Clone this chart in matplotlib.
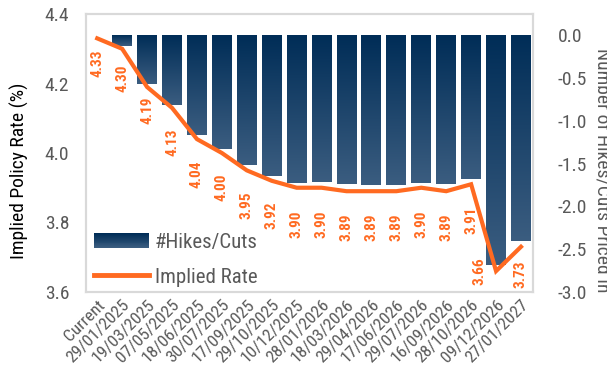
"""Implied policy rate path with the number of hikes/cuts priced in."""

import matplotlib.pyplot as plt
import numpy as np
from matplotlib import font_manager
from matplotlib.colors import LinearSegmentedColormap
from matplotlib.legend_handler import HandlerBase
from matplotlib.patches import Rectangle

meeting_dates = [
    "Current", "29/01/2025", "19/03/2025", "07/05/2025", "18/06/2025",
    "30/07/2025", "17/09/2025", "29/10/2025", "10/12/2025", "28/01/2026",
    "18/03/2026", "29/04/2026", "17/06/2026", "29/07/2026", "16/09/2026",
    "28/10/2026", "09/12/2026", "27/01/2027",
]
implied_rate = [
    4.33, 4.30, 4.19, 4.13, 4.04, 4.00, 3.95, 3.92, 3.90, 3.90,
    3.89, 3.89, 3.89, 3.90, 3.89, 3.91, 3.66, 3.73,
]
hikes_cuts = [
    0.0, -0.12, -0.57, -0.81, -1.17, -1.33, -1.52, -1.64, -1.73, -1.72,
    -1.74, -1.75, -1.75, -1.73, -1.74, -1.68, -2.68, -2.41,
]

ORANGE = "#ff6a21"
GREY = "#595959"
bar_cmap = LinearSegmentedColormap.from_list("navy", ["#002d57", "#3b5d80"])

# label placement (points): dx, dy from each line vertex
label_offsets = [
    (0, -18), (0, -21), (0, -17), (0, -25), (0, -25), (0, -25),
    (0, -25), (0, -25), (0, -26), (0, -26), (0, -26), (0, -26),
    (0, -26), (0, -26), (0, -26), (0, -26), (-12, 0), (0, -20),
]

# narrow families first, whichever is installed
installed = {f.name for f in font_manager.fontManager.ttflist}
narrow = [name for name in ("Roboto Condensed", "Liberation Sans Narrow",
                            "Open Sans Condensed", "DejaVu Sans Condensed")
          if name in installed]
FAMILY = narrow + ["DejaVu Sans"]


class GradientHandler(HandlerBase):
    """Legend key drawn as a stack of thin stripes."""

    def create_artists(self, legend, orig_handle, xdescent, ydescent,
                       width, height, fontsize, trans):
        n = 16
        stripes = []
        for i in range(n):
            stripes.append(Rectangle(
                (-xdescent, -ydescent + height * i / n), width, height / n + 0.05,
                facecolor=bar_cmap(1 - i / (n - 1)), edgecolor="none",
                transform=trans,
            ))
        return stripes


def main() -> None:
    plt.rcParams.update({
        "font.family": FAMILY,
        "font.stretch": "condensed",
        "font.size": 11,
        "text.color": GREY,
        "xtick.color": GREY,
        "ytick.color": GREY,
    })

    fig, ax = plt.subplots(figsize=(6.07, 3.70), dpi=100)
    fig.subplots_adjust(left=0.1417, right=0.878, top=0.962, bottom=0.211)
    ax2 = ax.twinx()
    ax.set_zorder(ax2.get_zorder() + 1)
    ax.patch.set_visible(False)

    x = np.arange(len(meeting_dates))
    width = 0.8

    # gradient bars on the right-hand axis
    gradient = np.linspace(0, 1, 256).reshape(-1, 1)
    for xi, val in zip(x, hikes_cuts):
        if val == 0:
            continue
        rect = Rectangle((xi - width / 2, val), width, -val,
                         facecolor="none", edgecolor="none")
        ax2.add_patch(rect)
        img = ax2.imshow(gradient, cmap=bar_cmap, aspect="auto",
                         extent=(xi - width / 2, xi + width / 2, val, 0),
                         origin="upper", zorder=1)
        img.set_clip_path(rect)
    ax2.set_aspect("auto")
    ax2.set_xlim(-0.45, len(x) - 0.52)
    ax2.set_ylim(-3.0, 0.25)
    ticks = np.arange(-3.0, 0.01, 0.5)
    ax2.set_yticks(ticks)
    ax2.set_yticklabels([f"{v:.1f}" for v in ticks])

    # implied rate line on the left-hand axis
    ax.plot(x, implied_rate, color=ORANGE, linewidth=3, solid_joinstyle="miter",
            zorder=3)
    for xi, rate, (dx, dy) in zip(x, implied_rate, label_offsets):
        ax.annotate(f"{rate:.2f}", (xi, rate), xytext=(dx, dy),
                    textcoords="offset points", rotation=90, ha="center",
                    va="center", color=ORANGE, fontsize=11, fontweight="bold")

    ax.set_ylim(3.6, 4.4)
    ax.set_xlim(-0.45, len(x) - 0.52)
    ax.set_yticks([3.6, 3.8, 4.0, 4.2, 4.4])
    ax.set_yticklabels(["3.6", "3.8", "4.0", "4.2", "4.4"])
    ax.set_xticks(x)
    ax.set_xticklabels(meeting_dates, rotation=45, ha="right",
                       rotation_mode="anchor")
    ax.set_ylabel("Implied Policy Rate (%)", fontsize=14)
    ax.yaxis.set_label_coords(-0.127, 0.435)

    for axis in (ax, ax2):
        axis.tick_params(length=0, labelsize=14, pad=12)
        for spine in axis.spines.values():
            spine.set_color("#d9d9d9")
            spine.set_linewidth(1.5)
    ax.tick_params(axis="x", labelsize=12.5, pad=4)
    ax2.tick_params(axis="y", pad=18)

    fig.text(0.993, 0.54, "Number of Hikes/Cuts Priced In", rotation=270,
             ha="center", va="center", fontsize=14, color=GREY)

    bar_key = Rectangle((0, 0), 1, 1)
    line_key, = ax.plot([], [], color=ORANGE, linewidth=3.5)
    ax.legend([bar_key, line_key], ["#Hikes/Cuts", "Implied Rate"],
              handler_map={Rectangle: GradientHandler()},
              loc="lower left", bbox_to_anchor=(0.0, -0.011), frameon=False,
              fontsize=15, handlelength=2.6, handleheight=0.7,
              handletextpad=0.3, labelspacing=0.75, borderaxespad=0.0,
              labelcolor=GREY)

    fig.savefig("out.png", dpi=100)
    plt.close(fig)


if __name__ == "__main__":
    main()
